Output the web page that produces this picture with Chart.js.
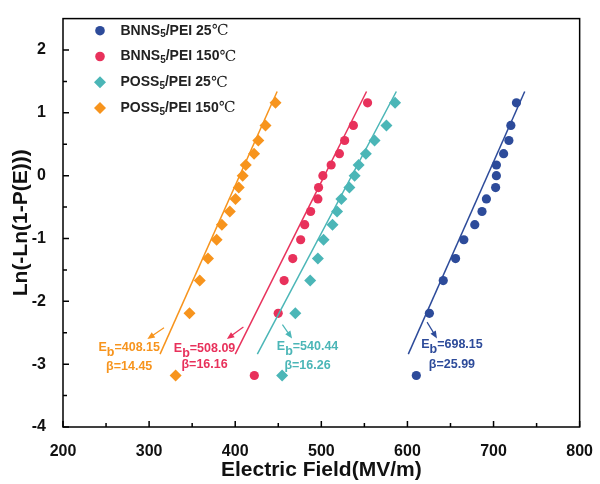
<!DOCTYPE html>
<html>
<head>
<meta charset="utf-8">
<script src="https://cdn.jsdelivr.net/npm/chart.js@4.4.0/dist/chart.umd.min.js"></script>
<style>
    body { margin: 0; background: #ffffff; }
    #wrap { width: 600px; height: 484px; }
</style>
</head>
<body>
<div id="wrap"><canvas id="weibullChart"></canvas></div>
<script>
// Weibull plot data
var probLevels = [-3.18, -2.19, -1.67, -1.32, -1.02, -0.78, -0.57, -0.37, -0.19, 0.00, 0.17, 0.35, 0.56, 0.80, 1.16];
var bnns25 = [610.3, 625.5, 641.6, 655.9, 665.5, 678.2, 686.6, 691.7, 702.4, 703.3, 703.3, 711.7, 717.8, 720.1, 726.6];
var bnns150 = [422.2, 449.9, 456.8, 466.8, 476.0, 480.7, 487.6, 496.0, 496.8, 501.8, 511.4, 521.0, 527.1, 537.2, 553.7];
var poss25 = [454.5, 469.8, 487.1, 496.0, 502.6, 513.0, 518.3, 523.3, 532.6, 538.7, 543.3, 551.7, 561.8, 575.6, 585.6];
var poss150 = [330.8, 346.9, 358.8, 368.4, 378.4, 384.5, 393.7, 400.3, 404.1, 408.7, 412.2, 421.9, 426.8, 435.2, 446.8];

// fitted lines (two ends each)
var fitLevels = [-2.84, 1.34];
var bnns25Fit = [601.0, 736.2];
var bnns150Fit = [400.0, 552.5];
var poss25Fit = [425.7, 587.1];
var poss150Fit = [312.7, 448.7];

var xTicks = [200, 300, 400, 500, 600, 700, 800];
var yTicks = [-4, -3, -2, -1, 0, 1, 2];

var seriesNames = ['BNNS|5|/PEI 25', 'BNNS|5|/PEI 150', 'POSS|5|/PEI 25', 'POSS|5|/PEI 150'];
var ebValues = ['698.15', '508.09', '540.44', '408.15'];
var betaValues = ['25.99', '16.16', '16.26', '14.45'];

var colors = ['#2d4b9a', '#e8315b', '#4bb6b7', '#f7941d'];
var pointStyles = ['circle', 'circle', 'rectRot', 'rectRot'];
var pointSizes = [4.6, 4.6, 6, 6];

// where each Eb / beta note sits, in axis units
var notePos = [
    { x: 651.7, ebY: -2.69, betaY: -3.00, arrow: [622.8, -2.33, 634.3, -2.59] },
    { x: 364.4, ebY: -2.75, betaY: -3.01, arrow: [409.5, -2.41, 390.3, -2.60] },
    { x: 484.0, ebY: -2.72, betaY: -3.02, arrow: [454.8, -2.37, 466.0, -2.59] },
    { x: 276.9, ebY: -2.73, betaY: -3.03, arrow: [317.3, -2.42, 298.0, -2.60] }
];

var FONT = '"Liberation Sans", Arial, sans-serif';

function toPoints(xs, ys) {
    return xs.map(function (v, i) { return { x: v, y: ys[i] }; });
}

var pointSets = [bnns25, bnns150, poss25, poss150];
var fitSets = [bnns25Fit, bnns150Fit, poss25Fit, poss150Fit];

var datasets = [];
fitSets.forEach(function (f, i) {
    datasets.push({
        type: 'line',
        data: toPoints(f, fitLevels),
        borderColor: colors[i],
        borderWidth: 1.5,
        pointRadius: 0,
        fill: false
    });
});
pointSets.forEach(function (s, i) {
    datasets.push({
        type: 'scatter',
        data: toPoints(s, probLevels),
        backgroundColor: colors[i],
        borderWidth: 0,
        pointStyle: pointStyles[i],
        pointRadius: pointSizes[i],
        pointHoverRadius: pointSizes[i]
    });
});

// text with a subscript part: "A|sub|B", returns end x
function drawSubText(ctx, text, x, y, size, subSize, subDrop) {
    var parts = text.split('|');
    ctx.textAlign = 'left';
    ctx.textBaseline = 'middle';
    for (var i = 0; i < parts.length; i++) {
        var isSub = i % 2 === 1;
        ctx.font = 'bold ' + (isSub ? subSize : size) + 'px ' + FONT;
        ctx.fillText(parts[i], x, y + (isSub ? subDrop : 0));
        x += ctx.measureText(parts[i]).width;
    }
    return x;
}

function subTextWidth(ctx, text, size, subSize) {
    var parts = text.split('|'), w = 0;
    for (var i = 0; i < parts.length; i++) {
        ctx.font = 'bold ' + (i % 2 === 1 ? subSize : size) + 'px ' + FONT;
        w += ctx.measureText(parts[i]).width;
    }
    return w;
}

var decorPlugin = {
    id: 'decor',
    afterDraw: function (chart) {
        var ctx = chart.ctx;
        var area = chart.chartArea;
        var xs = chart.scales.x, ys = chart.scales.y;
        ctx.save();

        // frame
        ctx.strokeStyle = '#000';
        ctx.lineWidth = 1.5;
        ctx.strokeRect(area.left, area.top, area.right - area.left, area.bottom - area.top);

        // inward ticks
        ctx.beginPath();
        for (var v = 200; v <= 800; v += 50) {
            var px = xs.getPixelForValue(v);
            var len = v % 100 === 0 ? 6 : 4;
            ctx.moveTo(px, area.bottom);
            ctx.lineTo(px, area.bottom - len);
        }
        for (var w = -4; w <= 2.001; w += 0.5) {
            var py = ys.getPixelForValue(w);
            var len2 = Math.abs(w % 1) < 0.01 ? 6 : 4;
            ctx.moveTo(area.left, py);
            ctx.lineTo(area.left + len2, py);
        }
        ctx.stroke();

        // legend
        for (var i = 0; i < seriesNames.length; i++) {
            var ly = 30.7 + i * 25.8;
            ctx.fillStyle = colors[i];
            ctx.beginPath();
            if (pointStyles[i] === 'circle') {
                ctx.arc(100, ly, 4.8, 0, Math.PI * 2);
            } else {
                ctx.moveTo(100, ly - 6);
                ctx.lineTo(106, ly);
                ctx.lineTo(100, ly + 6);
                ctx.lineTo(94, ly);
                ctx.closePath();
            }
            ctx.fill();
            ctx.fillStyle = '#222';
            var endX = drawSubText(ctx, seriesNames[i], 120.5, ly, 14, 10, 4);
            ctx.font = '15px "DejaVu Serif", serif';
            ctx.fillText('\u2103', endX, ly + 0.5);
        }

        // Eb / beta notes with arrows
        for (var k = 0; k < notePos.length; k++) {
            var n = notePos[k];
            ctx.fillStyle = colors[k];
            ctx.strokeStyle = colors[k];
            var cx = xs.getPixelForValue(n.x);
            var ebText = 'E|b|=' + ebValues[k];
            var ew = subTextWidth(ctx, ebText, 12.5, 12.5);
            drawSubText(ctx, ebText, cx - ew / 2, ys.getPixelForValue(n.ebY), 12.5, 12.5, 5);
            ctx.font = 'bold 12.5px ' + FONT;
            ctx.textAlign = 'center';
            ctx.textBaseline = 'middle';
            ctx.fillText('\u03b2=' + betaValues[k], cx, ys.getPixelForValue(n.betaY));

            var x1 = xs.getPixelForValue(n.arrow[0]), y1 = ys.getPixelForValue(n.arrow[1]);
            var x2 = xs.getPixelForValue(n.arrow[2]), y2 = ys.getPixelForValue(n.arrow[3]);
            var ang = Math.atan2(y2 - y1, x2 - x1);
            ctx.lineWidth = 1.2;
            ctx.beginPath();
            ctx.moveTo(x1, y1);
            ctx.lineTo(x2 - 5 * Math.cos(ang), y2 - 5 * Math.sin(ang));
            ctx.stroke();
            ctx.beginPath();
            ctx.moveTo(x2, y2);
            ctx.lineTo(x2 - 8 * Math.cos(ang - 0.4), y2 - 8 * Math.sin(ang - 0.4));
            ctx.lineTo(x2 - 8 * Math.cos(ang + 0.4), y2 - 8 * Math.sin(ang + 0.4));
            ctx.closePath();
            ctx.fill();
        }
        ctx.restore();
    }
};

var ctxWeibull = document.getElementById('weibullChart').getContext('2d');
var weibullChart = new Chart(ctxWeibull, {
    type: 'scatter',
    data: { datasets: datasets },
    options: {
        responsive: true,
        maintainAspectRatio: false,
        animation: false,
        layout: { padding: { top: 8, right: 17, left: 0, bottom: 0 } },
        plugins: {
            legend: { display: false },
            tooltip: { enabled: false }
        },
        scales: {
            x: {
                type: 'linear',
                min: 200,
                max: 800,
                afterFit: function (scale) { scale.height = 57; },
                afterBuildTicks: function (scale) {
                    scale.ticks = xTicks.map(function (v) { return { value: v }; });
                },
                ticks: { padding: 7, color: '#111', font: { family: FONT, size: 16, weight: 'bold' } },
                grid: { display: false },
                border: { display: false },
                title: {
                    display: true,
                    text: 'Electric Field(MV/m)',
                    color: '#111',
                    font: { family: FONT, size: 21, weight: 'bold' },
                    padding: { top: 0, bottom: 1 }
                }
            },
            y: {
                type: 'linear',
                min: -4,
                max: 2.5,
                afterFit: function (scale) { scale.width = 63; },
                afterBuildTicks: function (scale) {
                    scale.ticks = yTicks.map(function (v) { return { value: v }; });
                },
                ticks: { padding: 9, color: '#111', font: { family: FONT, size: 16, weight: 'bold' } },
                grid: { display: false },
                border: { display: false },
                title: {
                    display: true,
                    text: 'Ln(-Ln(1-P(E)))',
                    color: '#111',
                    font: { family: FONT, size: 21, weight: 'bold' },
                    padding: { top: 9, bottom: 0 }
                }
            }
        }
    },
    plugins: [decorPlugin]
});
</script>
</body>
</html>
